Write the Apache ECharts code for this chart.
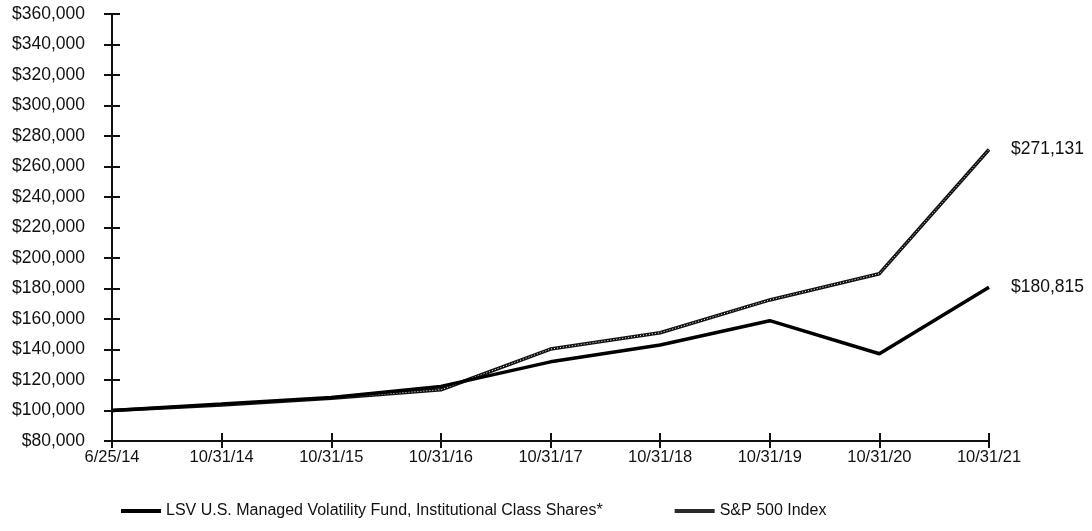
<!DOCTYPE html>
<html>
<head>
<meta charset="utf-8">
<script src="https://cdn.jsdelivr.net/npm/echarts@6/dist/echarts.min.js"></script>
<style>
  html, body { margin: 0; padding: 0; background: #fff; }
  #container { width: 1092px; height: 531px; }
</style>
</head>
<body>
<div id="container"></div>
<script>
let dates = ['6/25/14', '10/31/14', '10/31/15', '10/31/16', '10/31/17', '10/31/18', '10/31/19', '10/31/20', '10/31/21'];
let fundValues = [100000, 104200, 108600, 115800, 131900, 142900, 158900, 137200, 180815];
let spValues = [100000, 103600, 108100, 113600, 140300, 151000, 172500, 189700, 271131];
let fundName = 'LSV U.S. Managed Volatility Fund, Institutional Class Shares*';
let spName = 'S&P 500 Index';

let dom = document.getElementById('container');
let myChart = echarts.init(dom);
let font = 'Liberation Sans, Arial, sans-serif';

function money(v) {
    return '$' + v.toLocaleString('en-US');
}

let endLabel = {
    show: true,
    formatter: function (p) { return money(p.value); },
    distance: 22,
    fontSize: 17.5,
    fontFamily: font,
    color: '#111'
};

let option = {
    animation: false,
    grid: { left: 112, right: 103, top: 14, bottom: 90 },
    legend: {
        data: [
            { name: fundName, icon: 'rect', itemStyle: { color: '#000' } },
            { name: spName, icon: 'rect', itemStyle: { color: '#2a2a2a' } }
        ],
        top: 498,
        left: 116,
        itemGap: 72,
        itemWidth: 40,
        itemHeight: 4,
        textStyle: { fontSize: 16, fontFamily: font, color: '#111' }
    },
    xAxis: [
        {
            type: 'category',
            data: dates,
            boundaryGap: false,
            axisLine: { lineStyle: { color: '#111', width: 2 } },
            axisTick: { show: true, length: 7, lineStyle: { color: '#111', width: 2 } },
            axisLabel: { fontSize: 16.5, fontFamily: font, color: '#111', margin: 8, interval: 0 },
            splitLine: { show: false }
        },
        {
            type: 'category',
            data: dates,
            position: 'bottom',
            boundaryGap: false,
            axisLine: { show: true, lineStyle: { color: '#111', width: 2 } },
            axisTick: { show: true, inside: true, length: 8, lineStyle: { color: '#111', width: 2 } },
            axisLabel: { show: false },
            splitLine: { show: false }
        }
    ],
    yAxis: [
        {
            type: 'value',
            min: 80000,
            max: 360000,
            interval: 20000,
            axisLine: { show: true, lineStyle: { color: '#111', width: 2 } },
            axisTick: { show: true, length: 8, lineStyle: { color: '#111', width: 2 } },
            axisLabel: { fontSize: 17.5, fontFamily: font, color: '#111', margin: 27, formatter: money },
            splitLine: { show: false }
        },
        {
            type: 'value',
            min: 80000,
            max: 360000,
            interval: 20000,
            position: 'left',
            axisLine: { show: false },
            axisTick: { show: true, inside: true, length: 8, lineStyle: { color: '#111', width: 2 } },
            axisLabel: { show: false },
            splitLine: { show: false }
        }
    ],
    series: [
        {
            name: spName,
            type: 'line',
            data: spValues,
            symbol: 'none',
            z: 2,
            itemStyle: { color: '#111' },
            lineStyle: { color: '#111', width: 3.5 },
            endLabel: endLabel
        },
        {
            name: 'spDots',
            type: 'line',
            data: spValues,
            symbol: 'none',
            silent: true,
            z: 3,
            lineStyle: { color: '#fff', width: 1, type: [1, 2] }
        },
        {
            name: fundName,
            type: 'line',
            data: fundValues,
            symbol: 'none',
            z: 4,
            itemStyle: { color: '#000' },
            lineStyle: { color: '#000', width: 3.5 },
            endLabel: endLabel
        }
    ]
};

myChart.setOption(option);
</script>
</body>
</html>
